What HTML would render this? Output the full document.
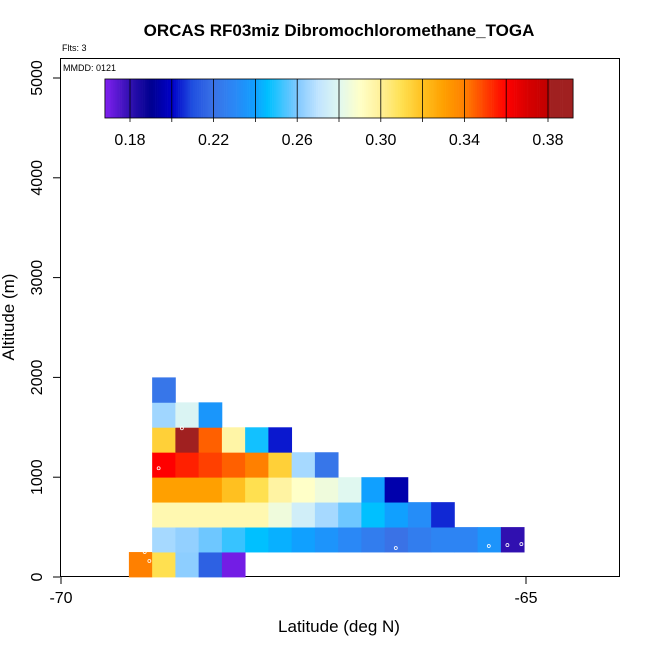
<!DOCTYPE html>
<html><head><meta charset="utf-8"><style>
body{margin:0;background:#fff;}
svg text{font-family:"Liberation Sans",sans-serif;}
</style></head><body>
<svg id="chart" width="650" height="650" viewBox="0 0 650 650" xmlns="http://www.w3.org/2000/svg">
<rect width="650" height="650" fill="#fff"/>
<text x="339" y="36" text-anchor="middle" font-size="17" font-weight="bold">ORCAS RF03miz Dibromochloromethane_TOGA</text>
<text x="62" y="51" font-size="9">Flts: 3</text>
<rect x="60.5" y="58.5" width="559" height="518" fill="none" stroke="#000"/>
<text x="63" y="71" font-size="9">MMDD: 0121</text>
<g id="cells"></g>
<g id="pts"></g>
<g id="cbar"></g>
<g id="axes"></g>
<text x="339" y="632" text-anchor="middle" font-size="17">Latitude (deg N)</text>
<text transform="translate(14,317) rotate(-90)" text-anchor="middle" font-size="17">Altitude (m)</text>
</svg>
<script>
const rowAltitudes=[0,250,500,750,1000,1250,1500,1750];
const rowStartCols=[0,1,1,1,1,1,1,1];
const rowValues=[
 [0.340,0.310,0.262,0.215,0.170],
 [0.266,0.263,0.258,0.252,0.246,0.243,0.240,0.235,0.230,0.225,0.220,0.225,0.228,0.228,0.235,0.180],
 [0.295,0.295,0.295,0.295,0.295,0.285,0.275,0.266,0.258,0.246,0.240,0.232,0.205],
 [0.330,0.330,0.330,0.320,0.310,0.298,0.290,0.285,0.280,0.240,0.195],
 [0.360,0.355,0.350,0.345,0.340,0.315,0.266,0.222],
 [0.315,0.385,0.345,0.297,0.248,0.203],
 [0.265,0.278,0.236],
 [0.222]
];
const colorbarTicks=[0.18,0.22,0.26,0.30,0.34,0.38];
const xTicks=[-70,-65];
const yTicks=[0,1000,2000,3000,4000,5000];
const pointLats=[-69.05,-69.1,-69.2,-68.95,-68.7,-69.18,-69.1,-66.4,-65.4,-65.2,-65.05];
const pointAlts=[160,250,390,1090,1490,1980,740,290,310,320,330];

const NS='http://www.w3.org/2000/svg';
const X=lat=>61+(lat+70)*93;
const Y=alt=>577-alt*0.0998;
const CB=v=>130+(v-0.18)*(418/0.2);
const stops=[[0.168,'#8020f0'],[0.18,'#3010b0'],[0.19,'#000090'],[0.20,'#0000c8'],[0.21,'#2050e0'],[0.22,'#3a72e6'],[0.23,'#2a88f6'],[0.24,'#10a0ff'],[0.246,'#00c0ff'],[0.26,'#80c8ff'],[0.27,'#c0e4ff'],[0.28,'#e0f8f0'],[0.29,'#ffffc8'],[0.30,'#fff098'],[0.31,'#ffe050'],[0.32,'#ffc020'],[0.33,'#ffa000'],[0.34,'#ff8000'],[0.35,'#ff4000'],[0.36,'#ff0000'],[0.37,'#d80000'],[0.38,'#c00000'],[0.381,'#a02020'],[0.392,'#a02020']];
function hex(c){return [1,3,5].map(i=>parseInt(c.substr(i,2),16));}
function cmap(v){
 if(v<=stops[0][0])return stops[0][1];
 for(let i=1;i<stops.length;i++){if(v<=stops[i][0]){const a=hex(stops[i-1][1]),b=hex(stops[i][1]);const t=(v-stops[i-1][0])/(stops[i][0]-stops[i-1][0]);return 'rgb('+a.map((x,k)=>Math.round(x+(b[k]-x)*t)).join(',')+')';}}
 return stops[stops.length-1][1];
}
function mk(tag,attrs,parent){const e=document.createElementNS(NS,tag);for(const k in attrs)e.setAttribute(k,attrs[k]);parent.appendChild(e);return e;}
const cells=document.getElementById('cells');
rowValues.forEach((row,r)=>{row.forEach((v,j)=>{
 const lat0=-69.27+(rowStartCols[r]+j)*0.25;
 const x0=X(lat0),x1=X(lat0+0.25),y0=Y(rowAltitudes[r]+250),y1=Y(rowAltitudes[r]);
 const e=mk('rect',{x:x0,y:y0,width:x1-x0+0.4,height:y1-y0+0.4,fill:cmap(v)},cells);
 
 
});});
const pts=document.getElementById('pts');
pointLats.forEach((la,i)=>{const e=mk('circle',{cx:X(la),cy:Y(pointAlts[i]),r:1.5,fill:'none',stroke:'#fff','stroke-width':0.8},pts);
 
 });
const cb=document.getElementById('cbar');
const v0=0.168,v1=0.392;
for(let v=v0;v<v1;v+=0.001){const e=mk('rect',{x:CB(v),y:79,width:CB(v+0.001)-CB(v)+0.3,height:39,fill:cmap(v+0.0005)},cb);
 
 }
for(let k=0;k<=10;k++){const v=0.18+k*0.02;mk('line',{x1:CB(v),x2:CB(v),y1:79,y2:122,stroke:'#000','stroke-width':0.8},cb);}
const fr=mk('rect',{x:CB(v0),y:79,width:CB(v1)-CB(v0),height:39,fill:'none',stroke:'#000','stroke-width':0.8},cb);


colorbarTicks.forEach(t=>{const e=mk('text',{x:CB(t),y:145,'text-anchor':'middle','font-size':16},cb);e.textContent=t.toFixed(2);
 
 });
const ax=document.getElementById('axes');
xTicks.forEach(t=>{mk('line',{x1:X(t),x2:X(t),y1:577,y2:584,stroke:'#000'},ax);
 const e=mk('text',{x:X(t),y:603,'text-anchor':'middle','font-size':16},ax);e.textContent=t;
 
 });
yTicks.forEach(t=>{mk('line',{x1:53,x2:60,y1:Y(t),y2:Y(t),stroke:'#000'},ax);
 const e=mk('text',{transform:'translate(42,'+Y(t)+') rotate(-90)','text-anchor':'middle','font-size':16},ax);e.textContent=t;
 
 });
</script>
</body></html>
